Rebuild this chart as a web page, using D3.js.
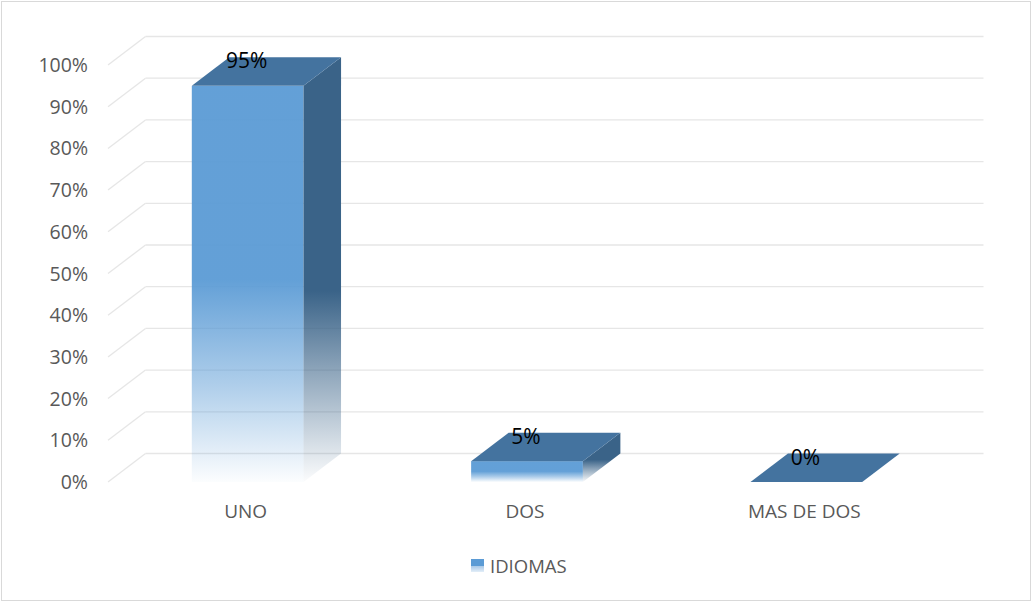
<!DOCTYPE html>
<html>
<head>
<meta charset="utf-8">
<script src="https://cdn.jsdelivr.net/npm/d3@7/dist/d3.min.js"></script>
<style>
  html, body { margin: 0; padding: 0; background: #ffffff; }
  svg { display: block; font-family: "Open Sans", "Liberation Sans", sans-serif; }
</style>
</head>
<body>
<svg id="chart" width="1032" height="603"></svg>
<script>
// Data
const categories = ["UNO", "DOS", "MAS DE DOS"];
const values = [0.95, 0.05, 0.0];
const valueLabels = ["95%", "5%", "0%"];
const yTicks = [0, 0.1, 0.2, 0.3, 0.4, 0.5, 0.6, 0.7, 0.8, 0.9, 1.0];
const seriesName = "IDIOMAS";

const svg = d3.select("#chart");
const W = 1032, H = 603;

// Perspective offset of the back wall relative to the front plane
const depthX = 37.5, depthY = -28.5;

// Front-plane scales
const y = d3.scaleLinear().domain([0, 1]).range([482, 65]);
const x = d3.scaleBand().domain(categories).range([108, 946])
  .paddingInner(0.6).paddingOuter(0.3);

const pct = d3.format(".0%");

// Chart border
svg.append("rect")
  .attr("x", 1.5).attr("y", 1.5)
  .attr("width", W - 3).attr("height", H - 4)
  .attr("fill", "#ffffff").attr("stroke", "#d9d9d9").attr("stroke-width", 1);

// Gradients: solid colour at the top of each face, fading out towards the floor
const defs = svg.append("defs");
function fadeGradient(id, color, solidUntil, topOpacity, midOpacity) {
  const g = defs.append("linearGradient").attr("id", id)
    .attr("x1", 0).attr("y1", 0).attr("x2", 0).attr("y2", 1);
  g.append("stop").attr("offset", 0).attr("stop-color", color).attr("stop-opacity", topOpacity);
  g.append("stop").attr("offset", solidUntil).attr("stop-color", color).attr("stop-opacity", topOpacity);
  g.append("stop").attr("offset", 0.75).attr("stop-color", color).attr("stop-opacity", midOpacity);
  g.append("stop").attr("offset", 1).attr("stop-color", color).attr("stop-opacity", 0.02);
}
fadeGradient("frontFill", "#5b9bd5", 0.49, 0.95, 0.5);
fadeGradient("sideFill", "#3a6388", 0.55, 1, 0.55);
const lg = defs.append("linearGradient").attr("id", "legendFill")
  .attr("x1", 0).attr("y1", 0).attr("x2", 0).attr("y2", 1);
lg.append("stop").attr("offset", 0).attr("stop-color", "#5b9bd5");
lg.append("stop").attr("offset", 0.5).attr("stop-color", "#5b9bd5");
lg.append("stop").attr("offset", 0.55).attr("stop-color", "#a9c9e8");
lg.append("stop").attr("offset", 1).attr("stop-color", "#e3eef8");

// Gridlines: back wall horizontals and side wall diagonals
const grid = svg.append("g").attr("stroke", "#e6e6e6").attr("stroke-width", 1.3).attr("fill", "none");
const x0 = x.range()[0], x1 = x.range()[1];
grid.selectAll("line.back").data(yTicks).join("line")
  .attr("class", "back")
  .attr("x1", x0 + depthX).attr("x2", x1 + depthX)
  .attr("y1", d => y(d) + depthY).attr("y2", d => y(d) + depthY);
grid.selectAll("line.side").data(yTicks).join("line")
  .attr("class", "side")
  .attr("x1", x0).attr("y1", d => y(d))
  .attr("x2", x0 + depthX).attr("y2", d => y(d) + depthY);

// Y axis labels
svg.append("g").selectAll("text").data(yTicks).join("text")
  .attr("x", 88).attr("y", d => y(d))
  .attr("dy", "0.36em")
  .attr("text-anchor", "end")
  .attr("font-size", 19.5).attr("fill", "#595959")
  .text(d => pct(d));

// 3D bars: front face, right side face, top face
const bars = svg.append("g").selectAll("g").data(categories).join("g");
bars.each(function (c, i) {
  const g = d3.select(this);
  const v = values[i];
  const bx0 = x(c), bx1 = x(c) + x.bandwidth();
  const yt = y(v), yb = y(0);
  if (yb - yt > 0.5) {
    g.append("rect")
      .attr("x", bx0).attr("y", yt)
      .attr("width", bx1 - bx0).attr("height", yb - yt)
      .attr("fill", "url(#frontFill)");
    g.append("path")
      .attr("d", d3.line()([[bx1, yt], [bx1 + depthX, yt + depthY], [bx1 + depthX, yb + depthY], [bx1, yb]]) + "Z")
      .attr("fill", "url(#sideFill)");
  }
  g.append("path")
    .attr("d", d3.line()([[bx0, yt], [bx0 + depthX, yt + depthY], [bx1 + depthX, yt + depthY], [bx1, yt]]) + "Z")
    .attr("fill", "#44739f");
});

// Value labels
svg.append("g").selectAll("text").data(categories).join("text")
  .attr("x", c => x(c) + x.bandwidth() / 2 - 1)
  .attr("y", (c, i) => y(values[i]) - 17.5)
  .attr("text-anchor", "middle")
  .attr("font-size", 21).attr("fill", "#000000")
  .text((c, i) => valueLabels[i]);

// Category labels
svg.append("g").selectAll("text").data(categories).join("text")
  .attr("x", c => x(c) + x.bandwidth() / 2 - 2)
  .attr("y", 518)
  .attr("text-anchor", "middle")
  .attr("font-size", 19).attr("fill", "#595959")
  .text(c => c);

// Legend
const legend = svg.append("g").attr("transform", "translate(471,559)");
legend.append("rect").attr("width", 13).attr("height", 13).attr("fill", "url(#legendFill)");
legend.append("text").attr("x", 19).attr("y", 14)
  .attr("font-size", 18.5).attr("fill", "#595959")
  .text(seriesName);
</script>
</body>
</html>
